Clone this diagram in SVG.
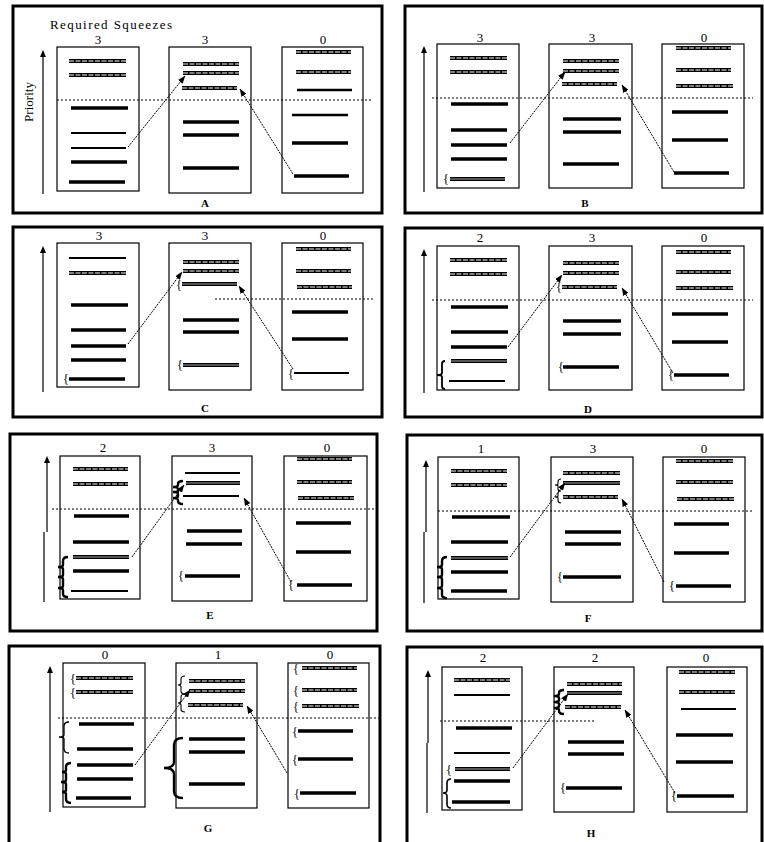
<svg xmlns="http://www.w3.org/2000/svg" width="764" height="842" viewBox="0 0 764 842">
<defs>
<marker id="ah" viewBox="0 0 8 6" refX="7.5" refY="3" markerWidth="8" markerHeight="6" markerUnits="userSpaceOnUse" orient="auto"><path d="M0 0L8 3L0 6z" fill="#000"/></marker>
</defs>
<style>
.frame{fill:none;stroke:#000;stroke-width:3}
.col{fill:#fff;stroke:#000;stroke-width:1.2}
.thick{fill:none;stroke:#000;stroke-width:3.6}
.thin{fill:none;stroke:#000;stroke-width:2}
.hb{fill:none;stroke:#000;stroke-width:4}
.hd{fill:none;stroke:#a8a8a8;stroke-width:1.6;stroke-dasharray:5 1.5}
.gd{fill:none;stroke:#707070;stroke-width:1.6}
.dot{stroke:#000;stroke-width:1;stroke-dasharray:2 2}
.arr{fill:none;stroke:#000;stroke-width:1;stroke-dasharray:2 1;marker-end:url(#ah)}
.pri{fill:none;stroke:#000;stroke-width:1.2}
.pa{fill:#000}
text{fill:#000}
.num{font-family:"Liberation Serif",serif;font-size:13px;text-anchor:middle}
.lab{font-family:"Liberation Serif",serif;font-size:11px;font-weight:bold;text-anchor:middle}
.br{font-family:"Liberation Serif",serif;font-size:12px}
.bz{fill:none;stroke:#000;stroke-width:2.4}
.bt{fill:none;stroke:#000;stroke-width:1.1}
</style>
<rect width="764" height="842" fill="#fff"/>

<!-- Panel A -->
<g id="panelA">
<rect class="frame" x="13" y="6" width="369" height="207"/>
<text x="50" y="29" font-family="Liberation Serif,serif" font-size="13" textLength="122" lengthAdjust="spacing">Required Squeezes</text>
<text class="num" x="98" y="44">3</text><text class="num" x="205" y="44">3</text><text class="num" x="323" y="44">0</text>
<text transform="translate(33 102) rotate(-90)" font-family="Liberation Serif,serif" font-size="13" text-anchor="middle" textLength="40" lengthAdjust="spacingAndGlyphs">Priority</text>
<g id="A1"><rect class="col" x="57" y="47" width="82" height="144"/>
<path class="hb" d="M69 61H126M69 75H126"/><path class="hd" d="M69 61H126M69 75H126"/>
<path class="thick" d="M71 108H128M71 162H127M69 182H125"/>
<path class="thin" d="M71 133H126M71 148H126"/></g>
<g id="A2"><rect class="col" x="169" y="47" width="82" height="146"/>
<path class="hb" d="M183 64H239M183 73H239M182 88H237"/><path class="hd" d="M183 64H239M183 73H239M182 88H237"/>
<path class="thick" d="M183 122H239M183 135H239M183 168H239"/></g>
<g id="A3"><rect class="col" x="282" y="47" width="81" height="146"/>
<path class="hb" d="M296 52H351M296 72H351"/><path class="hd" d="M296 52H351M296 72H351"/>
<path class="thin" d="M297 90H352M292 115H348" style="stroke-width:2.4"/>
<path class="thick" d="M292 143H348M294 176H349"/></g>
<line class="dot" x1="57" y1="100" x2="373" y2="100"/>
<text class="lab" x="205" y="207">A</text>
</g>

<!-- Panel B -->
<g id="panelB">
<rect class="frame" x="405" y="6" width="357" height="207"/>
<text class="num" x="480" y="42">3</text><text class="num" x="592" y="42">3</text><text class="num" x="704" y="42">0</text>
<g id="B1"><rect class="col" x="437" y="44" width="82" height="144"/>
<path class="hb" d="M450 58H507M450 72H507"/><path class="hd" d="M450 58H507M450 72H507"/>
<path class="thick" d="M451 104H508M451 130H507M451 145H507M451 159H507"/>
<path class="hb" d="M450 179H505"/><path class="gd" d="M450 179H505"/>
<text class="br" x="443" y="183">{</text></g>
<g id="B2"><rect class="col" x="549" y="44" width="83" height="144"/>
<path class="hb" d="M563 61H619M563 71H619M562 84H617"/><path class="hd" d="M563 61H619M563 71H619M562 84H617"/>
<path class="thick" d="M563 119H621M563 132H621M563 164H619"/></g>
<g id="B3"><rect class="col" x="662" y="44" width="82" height="144"/>
<path class="hb" d="M676 48H731M676 70H731M676 86H733"/><path class="hd" d="M676 48H731M676 70H731M676 86H733"/>
<path class="thick" d="M672 112H728M672 140H728M674 173H729"/></g>
<line class="dot" x1="432" y1="98" x2="753" y2="98"/>
<text class="lab" x="585" y="207">B</text>
</g>

<!-- Panel C -->
<g id="panelC">
<rect class="frame" x="13" y="227" width="369" height="190"/>
<text class="num" x="99" y="240">3</text><text class="num" x="205" y="240">3</text><text class="num" x="323" y="240">0</text>
<g id="C1"><rect class="col" x="57" y="243" width="82" height="144"/>
<path class="thin" d="M69 258H126"/>
<path class="hb" d="M69 273H126"/><path class="hd" d="M69 273H126"/>
<path class="thick" d="M71 305H128M71 330H126M71 346H126M71 360H126M69 379H125"/>
<text class="br" x="63" y="383">{</text></g>
<g id="C2"><rect class="col" x="169" y="243" width="82" height="147"/>
<path class="hb" d="M183 262H239M183 271H239"/><path class="hd" d="M183 262H239M183 271H239"/>
<path class="hb" d="M182 284H237M183 365H239"/><path class="gd" d="M182 284H237M183 365H239"/>
<text class="br" x="176" y="289">{</text><text class="br" x="177" y="369">{</text>
<path class="thick" d="M183 320H239M183 332H239"/></g>
<g id="C3"><rect class="col" x="282" y="243" width="81" height="147"/>
<path class="hb" d="M296 249H351M296 271H351M297 287H352"/><path class="hd" d="M296 249H351M296 271H351M297 287H352"/>
<path class="thick" d="M292 312H348M292 339H348"/>
<path class="thin" d="M294 373H349"/>
<text class="br" x="288" y="378">{</text></g>
<line class="dot" x1="215" y1="299" x2="373" y2="299"/>
<text class="lab" x="205" y="412">C</text>
</g>

<!-- Panel D -->
<g id="panelD">
<rect class="frame" x="405" y="228" width="357" height="189"/>
<text class="num" x="480" y="242">2</text><text class="num" x="592" y="242">3</text><text class="num" x="704" y="242">0</text>
<g id="D1"><rect class="col" x="437" y="246" width="82" height="144"/>
<path class="hb" d="M450 260H507M450 274H507"/><path class="hd" d="M450 260H507M450 274H507"/>
<path class="thick" d="M451 307H508M451 332H508M451 347H507"/>
<path class="hb" d="M451 361H507"/><path class="gd" d="M451 361H507"/>
<path class="thin" d="M449 381H505"/>
<path class="bz" style="stroke-width:1.8" d="M445 361Q442 361 442 364L442 373Q442 375 437 375Q442 375 442 377L442 386Q442 389 445 389"/></g>
<g id="D2"><rect class="col" x="549" y="246" width="83" height="144"/>
<path class="hb" d="M563 263H619M563 273H619M562 287H617"/><path class="hd" d="M563 263H619M563 273H619M562 287H617"/>
<text class="br" x="556" y="291">{</text>
<path class="thick" d="M563 321H621M563 334H621M563 367H619"/>
<text class="br" x="558" y="371">{</text></g>
<g id="D3"><rect class="col" x="662" y="246" width="82" height="144"/>
<path class="hb" d="M676 252H731M676 272H731M676 288H733"/><path class="hd" d="M676 252H731M676 272H731M676 288H733"/>
<path class="thick" d="M672 314H728M672 342H728M674 375H729"/>
<text class="br" x="668" y="379">{</text></g>
<line class="dot" x1="432" y1="300" x2="753" y2="300"/>
<text class="lab" x="588" y="413">D</text>
</g>

<!-- Panel E -->
<g id="panelE">
<rect class="frame" x="10" y="434" width="367" height="197"/>
<text class="num" x="103" y="452">2</text><text class="num" x="212" y="452">3</text><text class="num" x="327" y="452">0</text>
<g id="E1"><rect class="col" x="60" y="456" width="80" height="143"/>
<path class="hb" d="M73 469H128M73 484H128"/><path class="hd" d="M73 469H128M73 484H128"/>
<path class="thick" d="M74 516H129M73 542H129M73 571H129"/>
<path class="hb" d="M73 557H129"/><path class="gd" d="M73 557H129"/>
<path class="thin" d="M71 591H128"/>
<path class="bz" d="M68 557Q63 557 63 561L63 565Q63 567 58 567Q63 567 63 569L63 575Q63 577 58 577Q63 577 63 579L63 586Q63 588 58 588Q63 588 63 590L63 594Q63 597 68 597"/></g>
<g id="E2"><rect class="col" x="172" y="456" width="80" height="145"/>
<path class="thin" d="M185 473H240M183 496H239"/>
<path class="hb" d="M186 483H240"/><path class="gd" d="M186 483H240"/>
<path class="bz" d="M183 481Q178 481 178 484L178 485Q178 487 173 487Q178 487 178 489L178 491Q178 492 173 492Q178 492 178 494L178 496Q178 498 173 498Q178 498 178 500L178 501Q178 504 183 504"/>
<path class="thick" d="M187 531H242M186 544H242M185 576H240"/>
<text class="br" x="178" y="580">{</text></g>
<g id="E3"><rect class="col" x="284" y="456" width="83" height="145"/>
<path class="hb" d="M297 459H352M297 482H352M298 498H354"/><path class="hd" d="M297 459H352M297 482H352M298 498H354"/>
<path class="thick" d="M296 523H351M296 552H351M297 585H352"/>
<text class="br" x="288" y="589">{</text></g>
<line class="dot" x1="52" y1="509" x2="375" y2="509"/>
<text class="lab" x="210" y="619">E</text>
</g>

<!-- Panel F -->
<g id="panelF">
<rect class="frame" x="407" y="435" width="355" height="196"/>
<text class="num" x="481" y="453">1</text><text class="num" x="593" y="453">3</text><text class="num" x="704" y="453">0</text>
<g id="F1"><rect class="col" x="438" y="457" width="81" height="142"/>
<path class="hb" d="M451 471H507M451 485H507"/><path class="hd" d="M451 471H507M451 485H507"/>
<path class="thick" d="M452 517H510M451 542H508M451 572H508M451 591H507"/>
<path class="hb" d="M451 558H508"/><path class="gd" d="M451 558H508"/>
<path class="bz" d="M447 557Q442 557 442 561L442 565Q442 567 437 567Q442 567 442 569L442 575Q442 577 437 577Q442 577 442 579L442 586Q442 588 437 588Q442 588 442 590L442 595Q442 598 447 598"/></g>
<g id="F2"><rect class="col" x="551" y="457" width="82" height="145"/>
<path class="hb" d="M563 473H620M563 497H618"/><path class="hd" d="M563 473H620M563 497H618"/>
<path class="hb" d="M563 483H620"/><path class="gd" d="M563 483H620"/>
<path class="bt" d="M561 479Q558 479 558 482L558 484Q558 485 555 485Q558 485 558 486L558 489Q558 491 561 491Q558 491 558 493L558 496Q558 497 555 497Q558 497 558 498L558 500Q558 503 561 503"/>
<path class="thick" d="M565 532H621M565 544H621M563 577H621"/>
<text class="br" x="557" y="581">{</text></g>
<g id="F3"><rect class="col" x="663" y="457" width="82" height="145"/>
<path class="hb" d="M676 461H733M676 482H733M677 499H734"/><path class="hd" d="M676 461H733M676 482H733M677 499H734"/>
<path class="thick" d="M674 524H729M674 553H729M676 586H731"/>
<text class="br" x="669" y="590">{</text></g>
<line class="dot" x1="438" y1="511" x2="754" y2="511"/>
<text class="lab" x="588" y="622">F</text>
</g>

<!-- Panel G -->
<g id="panelG">
<rect class="frame" x="9" y="646" width="371" height="202"/>
<text class="num" x="105" y="659">0</text><text class="num" x="218" y="659">1</text><text class="num" x="330" y="659">0</text>
<g id="G1"><rect class="col" x="63" y="663" width="82" height="144"/>
<path class="hb" d="M76 678H133M76 692H133"/><path class="hd" d="M76 678H133M76 692H133"/>
<text class="br" x="70" y="683">{</text><text class="br" x="70" y="697">{</text>
<path class="thick" d="M79 724H134M77 749H133M77 765H133M77 779H133M76 798H131"/>
<path class="bt" style="stroke-width:1.3" d="M69 722Q64 722 64 726L64 735Q64 737 59 737Q64 737 64 739L64 749Q64 753 69 753"/>
<path class="bz" d="M71 763Q66 763 66 767L66 770Q66 772 62 772Q66 772 66 774L66 780Q66 782 61 782Q66 782 66 784L66 790Q66 792 62 792Q66 792 66 794L66 799Q66 803 71 803"/></g>
<g id="G2"><rect class="col" x="176" y="663" width="81" height="145"/>
<path class="hb" d="M189 681H245M189 691H245M188 705H243"/><path class="hd" d="M189 681H245M189 691H245M188 705H243"/>
<path class="bt" d="M185 676Q181 676 181 679L181 683Q181 685 178 685Q181 685 181 687L181 691Q181 694 185 694Q181 694 181 697L181 701Q181 703 178 703Q181 703 181 705L181 709Q181 712 185 712"/>
<path class="thick" d="M189 739H245M189 752H245M189 784H245"/>
<path class="bz" d="M183 738Q174 738 174 745L174 762Q174 768 164 768Q174 768 174 774L174 791Q174 798 183 798"/></g>
<g id="G3"><rect class="col" x="288" y="663" width="81" height="145"/>
<path class="hb" d="M302 668H357M302 690H357M302 706H359"/><path class="hd" d="M302 668H357M302 690H357M302 706H359"/>
<path class="thick" d="M298 731H353M298 759H353M300 793H356"/>
<text class="br" x="293" y="673">{</text><text class="br" x="293" y="695">{</text><text class="br" x="293" y="711">{</text>
<text class="br" x="292" y="736">{</text><text class="br" x="292" y="764">{</text><text class="br" x="294" y="798">{</text></g>
<line class="dot" x1="58" y1="718" x2="380" y2="718"/>
<text class="lab" x="208" y="832">G</text>
</g>

<!-- Panel H -->
<g id="panelH">
<rect class="frame" x="407" y="647" width="355" height="201"/>
<text class="num" x="483" y="662">2</text><text class="num" x="595" y="662">2</text><text class="num" x="706" y="662">0</text>
<g id="H1"><rect class="col" x="442" y="667" width="80" height="143"/>
<path class="hb" d="M454 680H510"/><path class="hd" d="M454 680H510"/>
<path class="thin" d="M454 695H510M454 753H510"/>
<path class="thick" d="M456 728H512M454 781H510M452 802H510"/>
<path class="hb" d="M455 769H510"/><path class="gd" d="M455 769H510"/>
<text class="br" x="446" y="774">{</text>
<path class="bz" style="stroke-width:1.6" d="M451 779Q447 779 447 783L447 790Q447 793 443 793Q447 793 447 796L447 804Q447 808 451 808"/></g>
<g id="H2"><rect class="col" x="554" y="667" width="80" height="145"/>
<path class="hb" d="M567 684H622M565 707H621"/><path class="hd" d="M567 684H622M565 707H621"/>
<path class="hb" d="M567 693H622"/><path class="gd" d="M567 693H622"/>
<path class="bz" d="M564 690Q559 690 559 693L559 694Q559 696 554 696Q559 696 559 698L559 700Q559 702 554 702Q559 702 559 704L559 706Q559 708 554 708Q559 708 559 710L559 711Q559 714 564 714"/>
<path class="thick" d="M568 742H624M568 754H624M566 788H622"/>
<text class="br" x="560" y="792">{</text></g>
<g id="H3"><rect class="col" x="667" y="667" width="80" height="145"/>
<path class="hb" d="M679 672H735M679 692H735"/><path class="hd" d="M679 672H735M679 692H735"/>
<path class="thin" d="M681 709H736"/>
<path class="thick" d="M676 735H733M676 762H733M677 796H734"/>
<text class="br" x="671" y="800">{</text></g>
<line class="dot" x1="440" y1="721" x2="594" y2="721"/>
<text class="lab" x="591" y="837">H</text>
</g>

<!-- Connectors -->
<g id="connectors">
<path class="pri" d="M43 194V56"/><path class="pa" d="M40 57L43 50L46 57z"/>
<path class="pri" d="M424 192V52"/><path class="pa" d="M421 53L424 46L427 53z"/>
<path class="pri" d="M43 392V252"/><path class="pa" d="M40 253L43 246L46 253z"/>
<path class="pri" d="M424 393V255"/><path class="pa" d="M421 256L424 249L427 256z"/>
<path class="pri" d="M44 602V532M47 532V462"/><path class="pa" d="M44 463L47 456L50 463z"/>
<path class="pri" d="M424 603V532M426 532V466"/><path class="pa" d="M423 467L426 460L429 467z"/>
<path class="pri" d="M50 812V672"/><path class="pa" d="M47 673L50 666L53 673z"/>
<path class="pri" d="M427 813V743M428 743V676"/><path class="pa" d="M425 677L428 670L431 677z"/>
<path class="arr" d="M128 147L185 76"/><path class="arr" d="M293 174L240 89"/>
<path class="arr" d="M510 143L565 72"/><path class="arr" d="M674 172L622 85"/>
<path class="arr" d="M128 344L182 272"/><path class="arr" d="M293 369L239 286"/>
<path class="arr" d="M508 347L562 275"/><path class="arr" d="M673 373L622 288"/>
<path class="arr" d="M132 557L184 485"/><path class="arr" d="M291 582L244 498"/>
<path class="arr" d="M510 557L565 483"/><path class="arr" d="M664 582L622 499"/>
<path class="arr" d="M135 765L190 690"/><path class="arr" d="M287 773L247 706"/>
<path class="arr" d="M513 768L568 694"/><path class="arr" d="M675 793L625 710"/>
</g>
</svg>
